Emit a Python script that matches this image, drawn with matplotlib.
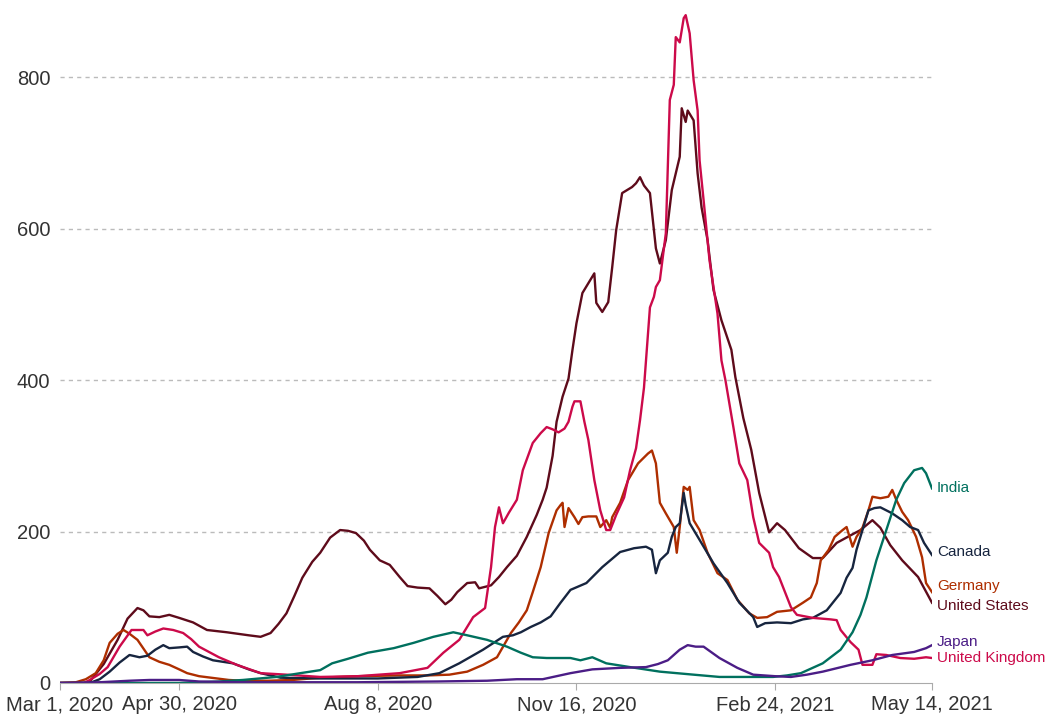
import matplotlib
matplotlib.use("Agg")
import matplotlib.pyplot as plt
import pandas as pd

# days since Mar 1, 2020 -> value
START = pd.Timestamp("2020-03-01")
END = pd.Timestamp("2021-05-14")

us_days = [0, 12, 15, 22, 29, 34, 39, 42, 45, 50, 55, 60, 67, 74, 84, 95, 101, 106, 110, 114,
           118, 122, 127, 131, 136, 141, 145, 149, 153, 156, 161, 166, 171, 175, 180, 186, 190,
           194, 197, 200, 205, 209, 211, 217, 221, 225, 230, 235, 240, 243, 245, 248, 250, 253,
           256, 258, 260, 263, 266, 269, 270, 273, 276, 278, 280, 283, 288, 290, 292, 294, 297,
           300, 302, 305, 308, 312, 313, 315, 316, 319, 321, 323, 326, 329, 333, 338, 340, 344,
           348, 352, 357, 361, 365, 372, 379, 384, 391, 398, 403, 409, 413, 418, 424, 432, 439]
us_vals = [0, 0, 2, 25, 57, 85, 99, 96, 88, 87, 90, 86, 80, 70, 67, 63, 61, 66, 78, 92,
           115, 139, 160, 172, 192, 202, 201, 198, 188, 176, 162, 156, 140, 128, 126, 125, 115,
           104, 110, 120, 132, 133, 125, 129, 140, 153, 168, 193, 222, 242, 258, 300, 345, 378,
           402, 440, 475, 515, 528, 541, 502, 490, 503, 549, 598, 647, 655, 660, 668, 657, 647,
           574, 554, 585, 651, 695, 759, 741, 756, 743, 673, 628, 585, 519, 479, 440, 404, 350,
           308, 251, 199, 211, 202, 178, 165, 165, 185, 195, 202, 215, 205, 182, 162, 140, 106]

de_days = [0, 8, 13, 18, 22, 25, 29, 32, 35, 39, 45, 50, 55, 60, 64, 70, 76, 85, 92, 105,
           117, 131, 150, 170, 185, 196, 205, 213, 220, 227, 231, 235, 238, 242, 246, 250, 252,
           253, 254, 256, 259, 261, 263, 266, 270, 272, 275, 277, 278, 282, 286, 291, 296, 298,
           300, 302, 305, 307, 309, 310.5, 312, 314, 316, 317, 319, 322, 326, 331, 336, 341, 347,
           351, 356, 361, 368, 374, 378, 381, 383, 387, 390, 394, 396, 399, 401, 404, 407, 409,
           413, 417, 419, 421, 424, 427, 431, 434, 436, 439]
de_vals = [0, 1, 5, 13, 30, 53, 65, 70, 65, 57, 34, 28, 24, 18, 13, 9, 7, 4, 3, 3,
           4, 7, 9, 10, 10, 11, 15, 24, 34, 66, 80, 96, 120, 153, 198, 228, 235,
           238, 206, 231, 219, 210, 219, 220, 220, 206, 215, 205, 219, 238, 268, 290, 303, 307,
           290, 238, 224, 215, 206, 172, 206, 259, 255, 259, 215, 202, 172, 145, 136, 110, 92,
           86, 87, 94, 96, 106, 113, 132, 162, 176, 193, 202, 206, 180, 193, 205, 228, 246,
           244, 246, 255, 242, 226, 215, 193, 166, 132, 120]

ca_days = [0, 15, 20, 25, 30, 35, 40, 44, 48, 52, 55, 60, 64, 67, 72, 77, 87, 95, 101, 111,
           130, 160, 180, 191, 201, 207, 213, 223, 228, 232, 237, 242, 247, 252, 257, 265, 273,
           282, 289, 295, 298, 300, 302, 306, 308, 310, 312, 314, 315, 317, 322, 329, 336, 342,
           349, 351, 355, 361, 368, 374, 379, 386, 393, 396, 399, 401, 404, 407, 410, 413, 419,
           424, 428, 432, 435, 439]
ca_vals = [0, 0, 5, 15, 27, 37, 34, 36, 44, 50, 46, 47, 48, 41, 35, 30, 26, 18, 13, 7,
           6, 6, 8, 13, 26, 35, 44, 61, 63, 67, 74, 80, 88, 106, 123, 132, 153,
           173, 178, 180, 176, 145, 162, 172, 193, 206, 211, 251, 235, 211, 189, 158, 132, 106,
           87, 74, 79, 80, 79, 84, 86, 96, 119, 139, 152, 176, 202, 228, 231, 232, 224,
           215, 206, 202, 185, 169]

uk_days = [0, 12, 15, 20, 24, 30, 36, 42, 44, 48, 52, 57, 62, 66, 70, 75, 80, 89, 101, 114,
           131, 150, 171, 185, 193, 201, 208, 214, 217, 219, 221, 223, 226, 230, 233, 238, 242,
           245, 248, 251, 254, 256, 258, 259, 262, 264, 266, 269, 272, 275, 277, 280, 284, 287,
           290, 292, 294, 297, 299, 300, 302, 305, 307, 309, 310, 312, 314, 315, 317, 319, 321,
           322, 324, 327, 331, 333, 335, 339, 342, 346, 349, 352, 357, 359, 362, 368, 371, 379,
           388, 391, 393, 398, 402, 404, 409, 411, 416, 423, 430, 436, 439]
uk_vals = [0, 0, 4, 12, 21, 48, 70, 70, 63, 68, 72, 70, 66, 58, 48, 41, 34, 24, 13, 11,
           8, 9, 13, 20, 40, 57, 87, 99, 153, 206, 232, 211, 225, 242, 281, 317, 330,
           338, 335, 331, 336, 345, 365, 372, 372, 345, 321, 268, 228, 202, 202, 222, 245, 281,
           310, 347, 390, 496, 510, 523, 532, 594, 770, 790, 853, 846, 878, 882, 858, 796, 756,
           690, 638, 558, 488, 426, 400, 338, 290, 268, 219, 185, 172, 153, 140, 100, 90, 86,
           84, 83, 70, 54, 44, 24, 24, 38, 37, 33, 32, 34, 33]

in_days = [0, 60, 80, 92, 109, 121, 131, 137, 145, 155, 168, 178, 188, 198, 205, 215, 225,
           232, 238, 245, 257, 262, 268, 275, 287, 302, 319, 332, 349, 359, 366, 373, 384, 393,
           399, 403, 406, 411, 416, 421, 425, 430, 434, 436, 439]
in_vals = [0, 0, 2, 4, 8, 13, 17, 26, 32, 40, 46, 53, 61, 67, 63, 57, 48,
           40, 34, 33, 33, 30, 34, 26, 21, 15, 11, 8, 8, 8, 10, 13, 26, 44,
           67, 90, 113, 162, 202, 242, 264, 281, 284, 277, 257]

jp_days = [0, 20, 35, 45, 60, 70, 90, 150, 190, 215, 230, 243, 250, 257, 268, 282, 295, 301,
           306, 312, 316, 320, 324, 332, 341, 349, 360, 368, 376, 384, 398, 409, 419, 430, 436, 439]
jp_vals = [0, 1, 3, 4, 4, 2, 1, 1, 2, 3, 5, 5, 9, 13, 18, 20, 21, 25,
           30, 44, 50, 48, 48, 33, 20, 11, 9, 8, 11, 15, 24, 30, 37, 41, 46, 50]

countries = ["United States", "Germany", "Canada", "United Kingdom", "India", "Japan"]
series_days = [us_days, de_days, ca_days, uk_days, in_days, jp_days]
series_vals = [us_vals, de_vals, ca_vals, uk_vals, in_vals, jp_vals]
colors = ["#5e0b1b", "#ae2e00", "#17253f", "#cc0a4a", "#00705e", "#4b1d86"]
label_offsets = [-4, 8, 4, 0, 0, 4]  # nudge end labels apart

tick_dates = ["2020-03-01", "2020-04-30", "2020-08-08", "2020-11-16", "2021-02-24", "2021-05-14"]
yticks = [0, 200, 400, 600, 800]

plt.rcParams["font.family"] = ["Liberation Sans", "DejaVu Sans"]

fig = plt.figure(figsize=(10.48, 7.15), dpi=100)
ax = fig.add_axes([60 / 1048, 32 / 715, 872 / 1048, 683 / 715])

for name, days, vals, col, off in zip(countries, series_days, series_vals, colors, label_offsets):
    dates = START + pd.to_timedelta(days, unit="D")
    ax.plot(dates, vals, color=col, lw=1.7, solid_joinstyle="round")
    ax.text(END + pd.Timedelta(days=2.5), vals[-1] + off, name, color=col,
            fontsize=11, va="center", ha="left", clip_on=False)

ax.set_xlim(START, END)
ax.set_ylim(0, 902)

ticks = pd.to_datetime(tick_dates)
ax.set_xticks(ticks)
ax.set_xticklabels([f"{d:%b} {d.day}, {d.year}" for d in ticks], fontsize=14.5, color="#333333")
ax.set_yticks(yticks)
ax.set_yticklabels([str(v) for v in yticks], fontsize=14.5, color="#333333")
ax.tick_params(axis="y", length=0, pad=7)
ax.tick_params(axis="x", length=5, color="#aaaaaa", pad=4)

for v in yticks[1:]:
    ax.axhline(v, color="#bbbbbb", lw=1, ls=(0, (3, 3)), zorder=0)

for side in ["top", "right", "left"]:
    ax.spines[side].set_visible(False)
ax.spines["bottom"].set_color("#aaaaaa")

fig.savefig("out.png", dpi=100, facecolor="white")
